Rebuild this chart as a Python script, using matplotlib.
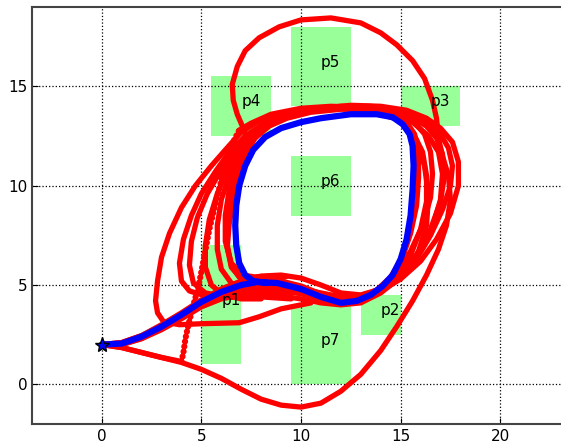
import matplotlib
matplotlib.use("Agg")
import matplotlib.pyplot as plt
from matplotlib.patches import Rectangle


# Regions: name, x0, y0, width, height
REGION_NAMES = ["p1", "p2", "p3", "p4", "p5", "p6", "p7"]
REGION_X = [5.0, 13.0, 15.0, 5.5, 9.5, 9.5, 9.5]
REGION_Y = [1.0, 2.5, 13.0, 12.5, 14.0, 8.5, 0.0]
REGION_W = [2.0, 2.0, 3.0, 3.0, 3.0, 3.0, 3.0]
REGION_H = [6.0, 2.0, 2.0, 3.0, 4.0, 3.0, 4.0]

START = (0.0, 2.0)

# Reference (blue) trajectory
BLUE_X = [0, 1, 2, 3, 4, 5, 6, 7, 7.8, 8.8, 10, 11, 12, 12.8, 13.5, 14.1,
          14.6, 15.0, 15.3, 15.5, 15.6, 15.65, 15.6, 15.45, 15.1, 14.6, 13.8,
          12.5, 11.0, 10.0, 9.0, 8.2, 7.6, 7.2, 6.9, 6.75, 6.7, 6.75, 6.9,
          7.2, 7.6, 8.3]
BLUE_Y = [2, 2.05, 2.4, 2.9, 3.5, 4.15, 4.65, 5.0, 5.15, 5.1, 4.8, 4.4, 4.1,
          4.2, 4.5, 4.95, 5.5, 6.3, 7.3, 8.5, 9.8, 11.0, 12.0, 12.6, 13.1,
          13.45, 13.6, 13.6, 13.4, 13.2, 12.9, 12.45, 11.8, 11.0, 10.0, 9.0,
          8.0, 7.0, 6.1, 5.5, 5.2, 5.1]

# Simulated (red) trajectories
RED_1_X = [0, 1, 2, 3, 4, 5, 6, 7, 8, 9, 10, 11, 12, 13, 13.8, 14.5, 15.1,
           15.5, 15.8, 15.9, 15.9, 15.7, 15.3, 14.6, 13.5, 12, 10.5, 9.3, 8.4,
           7.7, 7.2, 6.8, 6.5, 6.3, 6.3, 6.5, 6.9, 7.5, 8.5]
RED_1_Y = [2, 2.1, 2.45, 2.95, 3.55, 4.2, 4.7, 5.05, 5.25, 5.2, 4.95, 4.55,
           4.3, 4.35, 4.75, 5.4, 6.4, 7.6, 9.0, 10.4, 11.6, 12.6, 13.2, 13.6,
           13.85, 13.85, 13.7, 13.4, 13.0, 12.4, 11.6, 10.6, 9.4, 8.2, 7.0,
           6.0, 5.4, 5.15, 5.2]

RED_2_X = [0, 1, 2, 3, 4, 5, 6, 7, 8, 9, 10, 11, 12, 13, 14, 14.8, 15.5,
           16.1, 16.5, 16.6, 16.5, 16.2, 15.6, 14.8, 13.5, 12, 10.5, 9.3,
           8.3, 7.5, 6.9, 6.4, 6.0, 5.8, 5.8, 6.0, 6.5, 7.2, 8.2, 9.5]
RED_2_Y = [2, 2.05, 2.35, 2.85, 3.45, 4.1, 4.55, 4.85, 5.0, 4.95, 4.7, 4.4,
           4.2, 4.3, 4.8, 5.6, 6.7, 8.0, 9.4, 10.6, 11.7, 12.6, 13.3, 13.75,
           14.0, 14.0, 13.85, 13.6, 13.2, 12.5, 11.6, 10.5, 9.3, 8.0, 6.8,
           5.8, 5.1, 4.75, 4.65, 4.6]

RED_3_X = [0, 1, 2, 3, 4, 5, 6, 7, 8, 9, 10, 11, 12, 13, 14, 15, 15.8, 16.5,
           17.0, 17.2, 17.1, 16.8, 16.3, 15.5, 14.5, 13, 11.5, 10, 8.8, 7.8,
           7.0, 6.3, 5.8, 5.4, 5.2, 5.2, 5.5, 6.1, 7.0, 8.0]
RED_3_Y = [2, 2.0, 2.3, 2.75, 3.3, 3.9, 4.3, 4.5, 4.55, 4.45, 4.3, 4.1, 4.0,
           4.1, 4.6, 5.4, 6.5, 7.8, 9.2, 10.5, 11.6, 12.4, 13.0, 13.5, 13.8,
           13.95, 13.9, 13.7, 13.3, 12.7, 11.9, 10.8, 9.6, 8.3, 7.0, 5.9, 5.0,
           4.5, 4.3, 4.3]

RED_4_X = [0, 1, 2, 3, 4, 5, 6, 7, 8, 9, 10, 11, 12, 13, 14, 15, 16, 16.8,
           17.5, 17.9, 17.9, 17.6, 17.0, 16.3, 15.3, 14, 12.5, 11, 9.6, 8.5,
           7.6, 6.8, 6.0, 5.3, 4.8, 4.5, 4.4, 4.6, 5.2, 6.2, 7.5]
RED_4_Y = [2, 2.05, 2.35, 2.8, 3.4, 4.0, 4.45, 4.7, 4.8, 4.75, 4.55, 4.35,
           4.2, 4.3, 4.7, 5.3, 6.2, 7.3, 8.6, 10.0, 11.2, 12.2, 12.9, 13.4,
           13.8, 14.0, 14.05, 13.9, 13.6, 13.2, 12.6, 11.8, 10.8, 9.6, 8.4,
           7.2, 6.0, 5.1, 4.6, 4.4, 4.4]

RED_5_X = [0, 1, 2, 3, 4, 5, 6, 7, 8, 9, 10, 11, 12, 13, 14, 15, 15.9, 16.6,
           17.0, 17.1, 16.9, 16.4, 15.6, 14.5, 13, 11.5, 10, 8.8, 7.8, 7.0,
           6.2, 5.5, 4.7, 4.0, 3.4, 3.0, 2.8, 2.7, 2.8, 3.1, 3.9, 5.0, 6.9,
           7.9, 9.0, 10.5]
RED_5_Y = [2, 2.05, 2.4, 2.9, 3.5, 4.15, 4.65, 5.0, 5.15, 5.1, 4.85, 4.5,
           4.25, 4.3, 4.75, 5.5, 6.6, 7.9, 9.3, 10.6, 11.7, 12.5, 13.2,
           13.65, 13.9, 13.9, 13.7, 13.5, 13.2, 12.7, 11.8, 11.0, 10.0, 8.9,
           7.6, 6.4, 5.2, 4.2, 3.6, 3.15, 3.0, 3.05, 3.1, 3.4, 3.8, 4.1]

RED_6_X = [0, 1, 2, 3, 4, 5, 6, 7, 8, 9, 10, 11, 12, 13, 14, 14.8, 15.5,
           16.0, 16.3, 16.3, 16.1, 15.6, 14.8, 13.6, 12, 10.5, 9.2, 8.1, 7.2,
           6.4, 5.7, 5.0, 4.5, 4.1, 3.9, 4.0, 4.4, 5.2, 6.5, 8.0, 9.5]
RED_6_Y = [2, 2.0, 2.3, 2.8, 3.4, 4.05, 4.5, 4.8, 4.9, 4.85, 4.6, 4.3, 4.15,
           4.25, 4.7, 5.4, 6.5, 7.8, 9.2, 10.5, 11.7, 12.7, 13.35, 13.75,
           13.9, 13.8, 13.5, 13.1, 12.5, 11.7, 10.7, 9.6, 8.5, 7.3, 6.1, 5.2,
           4.7, 4.45, 4.4, 4.4, 4.3]

RED_7_X = [0, 1, 2, 3, 4, 5, 6, 7, 8, 9, 10, 11, 12, 13, 14, 15, 15.8, 16.5,
           17.1, 17.5, 17.6, 17.4, 17.0, 16.4, 15.5, 14.3, 13, 11.5, 10, 8.8,
           7.9, 7.2, 6.7, 6.4, 6.2, 6.2, 6.5, 7.1, 8.0, 9.2]
RED_7_Y = [2, 2.1, 2.45, 3.0, 3.6, 4.25, 4.8, 5.2, 5.45, 5.5, 5.35, 5.0, 4.6,
           4.5, 4.8, 5.4, 6.3, 7.5, 8.8, 10.0, 11.0, 11.9, 12.6, 13.1, 13.5,
           13.8, 13.95, 13.9, 13.7, 13.35, 12.8, 12.0, 11.0, 9.8, 8.5, 7.2,
           6.1, 5.5, 5.35, 5.4]

# Run that swings below p7, out to the right and over the top of p5
RED_OUT_X = [0, 1, 2, 3, 4, 5, 6, 7, 8, 9, 10, 11, 12, 13, 14, 14.8, 15.6,
             16.3, 16.9, 17.3, 17.5, 17.4, 17.1, 16.9, 16.8, 16.6, 16.2, 15.6,
             14.8, 14.0, 13.0, 11.5, 10.0, 8.9, 7.9, 7.2, 6.8, 6.55, 6.6,
             6.8, 7.1, 7.3, 7.2, 6.9, 6.6, 6.4, 6.3, 6.5, 7.0, 8.0]
RED_OUT_Y = [2, 1.85, 1.6, 1.35, 1.1, 0.75, 0.3, -0.25, -0.75, -1.05, -1.15,
             -0.95, -0.35, 0.5, 1.7, 2.9, 4.2, 5.5, 6.8, 8.0, 9.3, 10.5, 11.5,
             12.4, 13.4, 14.3, 15.4, 16.3, 17.1, 17.7, 18.2, 18.45, 18.35,
             18.0, 17.45, 16.8, 16.0, 15.1, 14.3, 13.6, 12.9, 12.3, 11.5,
             10.5, 9.3, 8.1, 6.9, 5.9, 5.3, 5.1]

# Run with the coarse-step climb on the left (dotted segment)
RED_DOT_X = [0, 1, 2, 3, 4.0, 4.1, 4.2, 4.35, 4.6, 4.85, 5.1, 5.4, 5.8, 6.2,
             6.6, 6.9, 7.5, 8.5, 10, 11.5, 13, 14.3, 15.2, 15.8, 16.2, 16.4,
             16.3, 15.9, 15.2, 14.3, 13, 11.5, 10, 8.5, 7.5]
RED_DOT_Y = [2, 1.85, 1.6, 1.35, 1.15, 1.6, 2.3, 3.0, 4.0, 4.9, 6.2, 7.8, 9.5,
             11.0, 12.2, 12.8, 13.15, 13.6, 13.9, 14.0, 13.95, 13.7, 13.2,
             12.3, 11.0, 9.5, 8.0, 6.7, 5.6, 4.9, 4.45, 4.5, 4.8, 5.1, 5.2]
DOT_END = 16  # points 4..15 drawn dotted

RED_RUNS = [
    (RED_1_X, RED_1_Y),
    (RED_2_X, RED_2_Y),
    (RED_3_X, RED_3_Y),
    (RED_4_X, RED_4_Y),
    (RED_5_X, RED_5_Y),
    (RED_6_X, RED_6_Y),
    (RED_7_X, RED_7_Y),
    (RED_OUT_X, RED_OUT_Y),
]


def main():
    figure = plt.figure(figsize=(5.61, 4.45), dpi=100)
    axis = figure.add_axes([32 / 561, 1 - 424 / 445, 538 / 561, 417 / 445])

    for name, x0, y0, w, h in zip(REGION_NAMES, REGION_X, REGION_Y,
                                  REGION_W, REGION_H):
        axis.add_patch(Rectangle((x0, y0), w, h, facecolor="#99ff99",
                                 edgecolor="none", zorder=1))
        axis.text(x0 + w / 2, y0 + h / 2, name, fontsize=11, zorder=5)

    red_style = dict(color="red", linewidth=3.8, solid_capstyle="round",
                     solid_joinstyle="round", zorder=3)

    for run_x, run_y in RED_RUNS:
        axis.plot(run_x, run_y, **red_style)

    # dotted climb, then the rest of that run as a normal line
    axis.plot(RED_DOT_X[:5], RED_DOT_Y[:5], **red_style)
    axis.plot(RED_DOT_X[4:DOT_END], RED_DOT_Y[4:DOT_END], color="red",
              linewidth=2.5, zorder=3)
    axis.plot(RED_DOT_X[4:DOT_END], RED_DOT_Y[4:DOT_END], color="red",
              linewidth=4.5, linestyle=(0, (0.01, 0.8)),
              dash_capstyle="round", zorder=3)
    axis.plot(RED_DOT_X[DOT_END - 1:], RED_DOT_Y[DOT_END - 1:], **red_style)

    axis.plot(BLUE_X, BLUE_Y, color="blue", linewidth=4.5,
              solid_capstyle="round", solid_joinstyle="round", zorder=4)
    axis.plot(*START, marker="*", markersize=11, color="blue",
              markeredgecolor="black", markeredgewidth=1, zorder=6)

    axis.set_xlim(-3.5, 23.5)
    axis.set_ylim(-2, 19)
    axis.set_xticks([0, 5, 10, 15, 20])
    axis.set_yticks([0, 5, 10, 15])
    axis.grid(True, color="black", linestyle=":", linewidth=0.9)
    axis.set_axisbelow("line")
    axis.tick_params(labelsize=11, direction="in", length=4)
    for spine in axis.spines.values():
        spine.set_color("#444444")
        spine.set_linewidth(1.5)

    figure.savefig("out.png", dpi=100)
    plt.close(figure)


if __name__ == "__main__":
    main()
